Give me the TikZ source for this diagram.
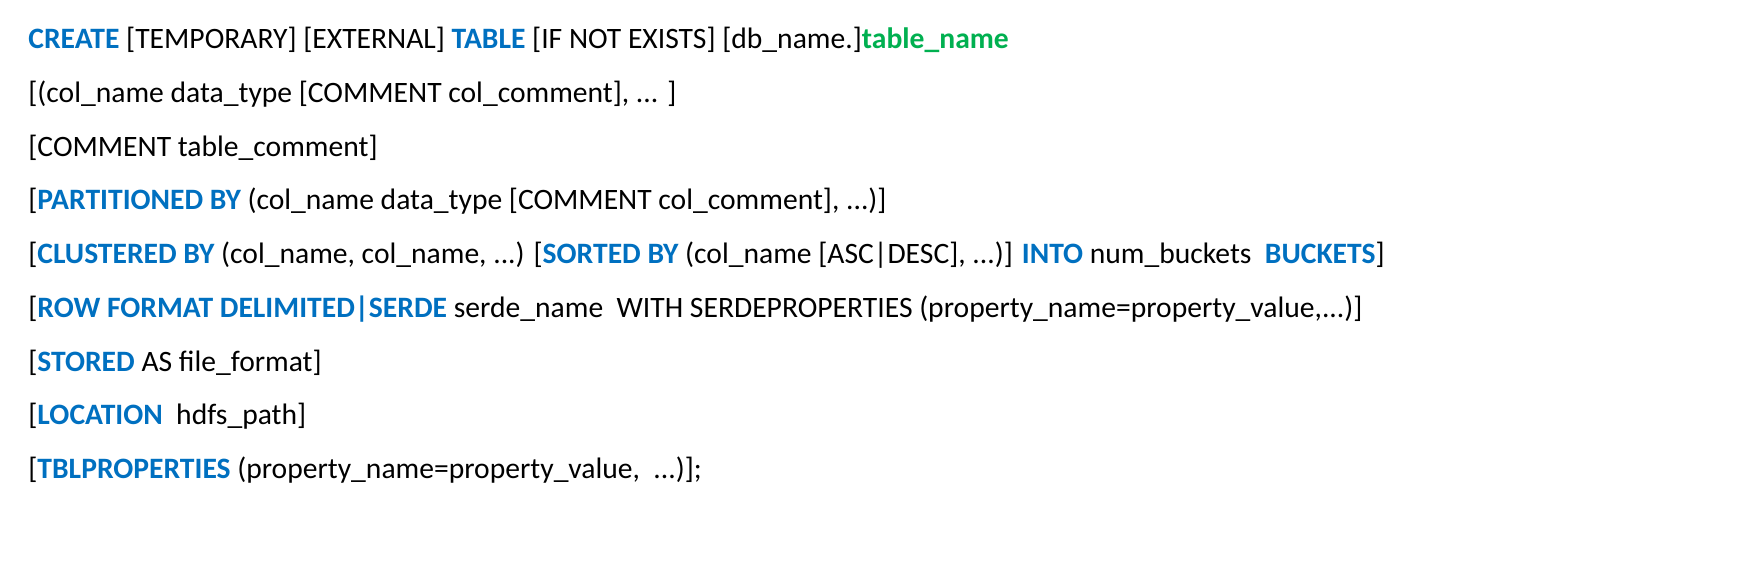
\documentclass[tikz,border=0pt]{standalone}
\usepackage{fontspec}
\setmainfont{Carlito}
\definecolor{kw}{HTML}{0070C0}
\definecolor{tn}{HTML}{00B050}
\newcommand{\kw}[1]{\textbf{\color{kw}#1}}
\begin{document}
\begin{tikzpicture}[x=1pt,y=1pt,line/.style={anchor=base west,inner sep=0pt,font=\fontsize{14.8}{17}\selectfont}]
\useasboundingbox (0,0) rectangle (878,281);
\node[line] (l1) at (14,281-24.5) {\kw{CREATE} [TEMPORARY] [EXTERNAL] \kw{TABLE} [IF NOT EXISTS] [db\_name.]\textbf{\color{tn}table\_name}};
\node[line] (l2) at (14,281-51.5) {[(col\_name data\_type [COMMENT col\_comment], ... ]};
\node[line] (l3) at (14,281-78.3) {[COMMENT table\_comment]};
\node[line] (l4) at (14,281-105) {[\kw{PARTITIONED BY} (col\_name data\_type [COMMENT col\_comment], ...)]};
\node[line] (l5) at (14,281-132) {[\kw{CLUSTERED BY} (col\_name, col\_name, ...) [\kw{SORTED BY} (col\_name [ASC|DESC], ...)] \kw{INTO} num\_buckets\ \ \kw{BUCKETS}]};
\node[line] (l6) at (14,281-159) {[\kw{ROW FORMAT DELIMITED|SERDE} serde\_name\ \ WITH SERDEPROPERTIES (property\_name=property\_value,...)]};
\node[line] (l7) at (14,281-185.7) {[\kw{STORED} AS file\_format]};
\node[line] (l8) at (14,281-212.5) {[\kw{LOCATION}\ \ hdfs\_path]};
\node[line] (l9) at (14,281-239.5) {[\kw{TBLPROPERTIES} (property\_name=property\_value,\ \ ...)];};
\end{tikzpicture}
\end{document}
